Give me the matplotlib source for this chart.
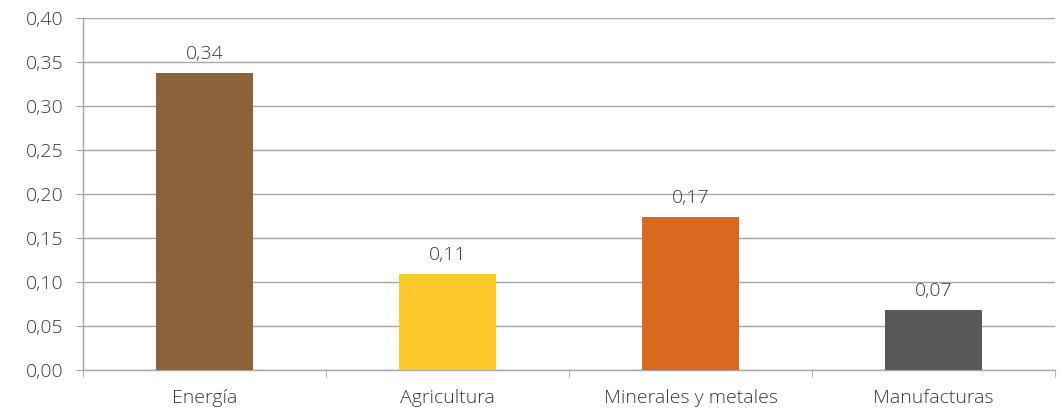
import matplotlib
matplotlib.use("Agg")
import matplotlib.pyplot as plt
from matplotlib.ticker import FixedLocator, FuncFormatter

categories = ["Energía", "Agricultura", "Minerales y metales", "Manufacturas"]
values = [0.3375, 0.109, 0.174, 0.068]
colors = ["#8A633A", "#FEC92C", "#D9691E", "#58595B"]
y_ticks = [0.00, 0.05, 0.10, 0.15, 0.20, 0.25, 0.30, 0.35, 0.40]

plt.rcParams["font.family"] = ["Open Sans", "DejaVu Sans"]
text_color = "#3a3a3a"
grid_color = "#a6a6a6"
fs = 14

fig = plt.figure(figsize=(10.62, 4.08), dpi=100)
ax = fig.add_axes([83 / 1062, 38 / 408, 972 / 1062, 352 / 408])

x = list(range(len(categories)))
bars = ax.bar(x, values, width=0.4, color=colors, zorder=3)

for xi, v in zip(x, values):
    ax.text(xi, v + 0.011, f"{v:.2f}".replace(".", ","), ha="center", va="bottom",
            fontsize=fs, color=text_color, fontweight="light")

ax.set_xlim(-0.5, len(categories) - 0.5)
ax.set_ylim(0, 0.40)
ax.yaxis.set_major_locator(FixedLocator(y_ticks))
ax.yaxis.set_major_formatter(FuncFormatter(lambda v, p: f"{v:.2f}".replace(".", ",")))
ax.set_xticks(x)
ax.set_xticklabels(categories)
ax.xaxis.set_minor_locator(FixedLocator([i - 0.5 for i in range(len(categories) + 1)]))

ax.grid(axis="y", color=grid_color, linewidth=1, zorder=0)
for side in ("top", "right"):
    ax.spines[side].set_visible(False)
for side in ("left", "bottom"):
    ax.spines[side].set_color(grid_color)
    ax.spines[side].set_linewidth(1)

ax.tick_params(axis="y", length=5, color=grid_color, labelsize=fs, labelcolor=text_color, pad=9)
ax.tick_params(axis="x", which="major", length=0, labelsize=fs, labelcolor=text_color, pad=14)
ax.tick_params(axis="x", which="minor", length=5, color=grid_color)
for lab in ax.get_xticklabels() + ax.get_yticklabels():
    lab.set_fontweight("light")

fig.savefig("out.png", dpi=100)
